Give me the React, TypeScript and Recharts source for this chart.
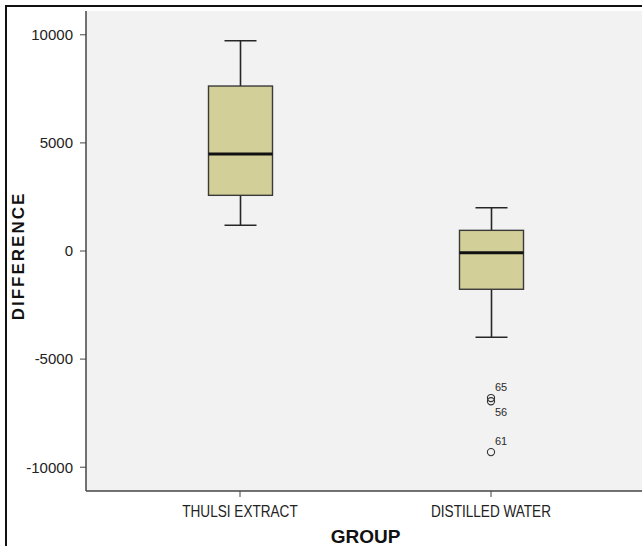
import { ComposedChart, Bar, Scatter, XAxis, YAxis, CartesianGrid, LabelList } from "recharts";

const groups = ["THULSI EXTRACT", "DISTILLED WATER"];
const whiskerLow = [1190, -3990];
const q1 = [2575, -1770];
const median = [4485, -80];
const q3 = [7630, 955];
const whiskerHigh = [9725, 2000];

const outlierGroups = ["DISTILLED WATER", "DISTILLED WATER", "DISTILLED WATER"];
const outlierValues = [-6800, -6950, -9300];
const outlierIds = ["65", "56", "61"];

const yTicks = [-10000, -5000, 0, 5000, 10000];

const boxData = groups.map((g, i) => ({
  group: g,
  min: whiskerLow[i],
  q1: q1[i],
  median: median[i],
  q3: q3[i],
  max: whiskerHigh[i],
}));

const outlierData = outlierValues.map((v, i) => ({
  group: outlierGroups[i],
  value: v,
  id: outlierIds[i],
}));

const INK = "#262626";
const FONT = "Arial, 'Liberation Sans', sans-serif";

function BoxShape(props: any) {
  const { x, y, width, height, payload } = props;
  const top = Math.min(y, y + height);
  const bottom = Math.max(y, y + height);
  const k = (bottom - top) / (payload.max - payload.min);
  const py = (v: number) => bottom - (v - payload.min) * k;
  const cx = x + width / 2;
  const cap = width / 4;
  return (
    <g>
      <line x1={cx} x2={cx} y1={py(payload.max)} y2={py(payload.q3)} stroke={INK} strokeWidth={1.6} />
      <line x1={cx} x2={cx} y1={py(payload.q1)} y2={py(payload.min)} stroke={INK} strokeWidth={1.6} />
      <line x1={cx - cap} x2={cx + cap} y1={py(payload.max)} y2={py(payload.max)} stroke={INK} strokeWidth={1.6} />
      <line x1={cx - cap} x2={cx + cap} y1={py(payload.min)} y2={py(payload.min)} stroke={INK} strokeWidth={1.6} />
      <rect
        x={x}
        y={py(payload.q3)}
        width={width}
        height={py(payload.q1) - py(payload.q3)}
        fill="#d3cf98"
        stroke="#3a3a3a"
        strokeWidth={1.4}
      />
      <line x1={x} x2={x + width} y1={py(payload.median)} y2={py(payload.median)} stroke="#111" strokeWidth={3} />
    </g>
  );
}

function Outlier(props: any) {
  const { cx, cy } = props;
  return <circle cx={cx} cy={cy} r={3.6} fill="none" stroke="#333" strokeWidth={1.1} />;
}

// label goes above the point, or below when the previous point is too close
function OutlierLabel(props: any) {
  const { x, y, width, height, value, index } = props;
  const cx = x + width / 2;
  const cy = y + height / 2;
  const prev = index > 0 ? outlierValues[index - 1] : null;
  const below = prev !== null && Math.abs(prev - outlierValues[index]) < 500;
  return (
    <text x={cx + 4} y={below ? cy + 15 : cy - 7} fontSize={11} fontFamily={FONT} fill="#2a2a2a">
      {value}
    </text>
  );
}

// SPSS draws the category names in a condensed face
function GroupTick(props: any) {
  const { x, y, payload } = props;
  return (
    <g transform={`translate(${x},${y}) scale(0.85,1)`}>
      <text x={0} y={0} dy="0.71em" textAnchor="middle" fontSize={16} fontFamily={FONT} fill="#222">
        {payload.value}
      </text>
    </g>
  );
}

export default function App() {
  return (
    <div style={{ position: "absolute", left: 0, top: 0, width: 642, height: 546, overflow: "hidden", background: "#fff" }}>
      <ComposedChart
        width={646}
        height={546}
        data={boxData}
        margin={{ top: 11, right: 1, bottom: 0, left: 0 }}
        accessibilityLayer={false}
      >
        <CartesianGrid fill="#f2f2f2" horizontal={false} vertical={false} />
        <XAxis
          xAxisId="top"
          orientation="top"
          dataKey="group"
          height={0}
          tick={false}
          tickLine={false}
          axisLine={{ stroke: "#8c8c8c", strokeWidth: 2 }}
        />
        <XAxis
          dataKey="group"
          type="category"
          allowDuplicatedCategory={false}
          padding={{ left: 28.5, right: 28.5 }}
          height={55}
          tickSize={6}
          tickMargin={9}
          axisLine={{ stroke: "#444", strokeWidth: 1.5 }}
          tickLine={{ stroke: "#444" }}
          tick={<GroupTick />}
          label={{
            content: (p: any) => (
              <text
                x={p.viewBox.x + p.viewBox.width / 2}
                y={p.viewBox.y + 52}
                textAnchor="middle"
                fontSize={19}
                fontWeight="bold"
                fontFamily={FONT}
                fill="#111"
              >
                GROUP
              </text>
            ),
          }}
        />
        <YAxis
          type="number"
          domain={[-11100, 11100]}
          ticks={yTicks}
          width={86}
          tickSize={6}
          tickMargin={7}
          axisLine={{ stroke: "#444", strokeWidth: 1.5 }}
          tickLine={{ stroke: "#444" }}
          tick={{ fill: "#222", fontSize: 15, fontFamily: FONT }}
          label={{
            content: (p: any) => {
              const cx = 18;
              const cy = p.viewBox.y + p.viewBox.height / 2 + 5;
              return (
                <text
                  x={cx}
                  y={cy}
                  transform={`rotate(-90 ${cx} ${cy})`}
                  textAnchor="middle"
                  dominantBaseline="central"
                  fontSize={17}
                  fontWeight="bold"
                  letterSpacing={2}
                  fontFamily={FONT}
                  fill="#111"
                >
                  DIFFERENCE
                </text>
              );
            },
          }}
        />
        <Bar
          dataKey={(d: any) => [d.min, d.max]}
          barSize={64}
          shape={<BoxShape />}
          isAnimationActive={false}
        />
        <Scatter data={outlierData} dataKey="value" shape={<Outlier />} isAnimationActive={false}>
          <LabelList dataKey="id" content={<OutlierLabel />} />
        </Scatter>
      </ComposedChart>
      <div
        style={{
          position: "absolute",
          left: 5,
          top: 5,
          width: 700,
          height: 600,
          borderLeft: "2px solid #111",
          borderTop: "2px solid #111",
          pointerEvents: "none",
        }}
      />
    </div>
  );
}
